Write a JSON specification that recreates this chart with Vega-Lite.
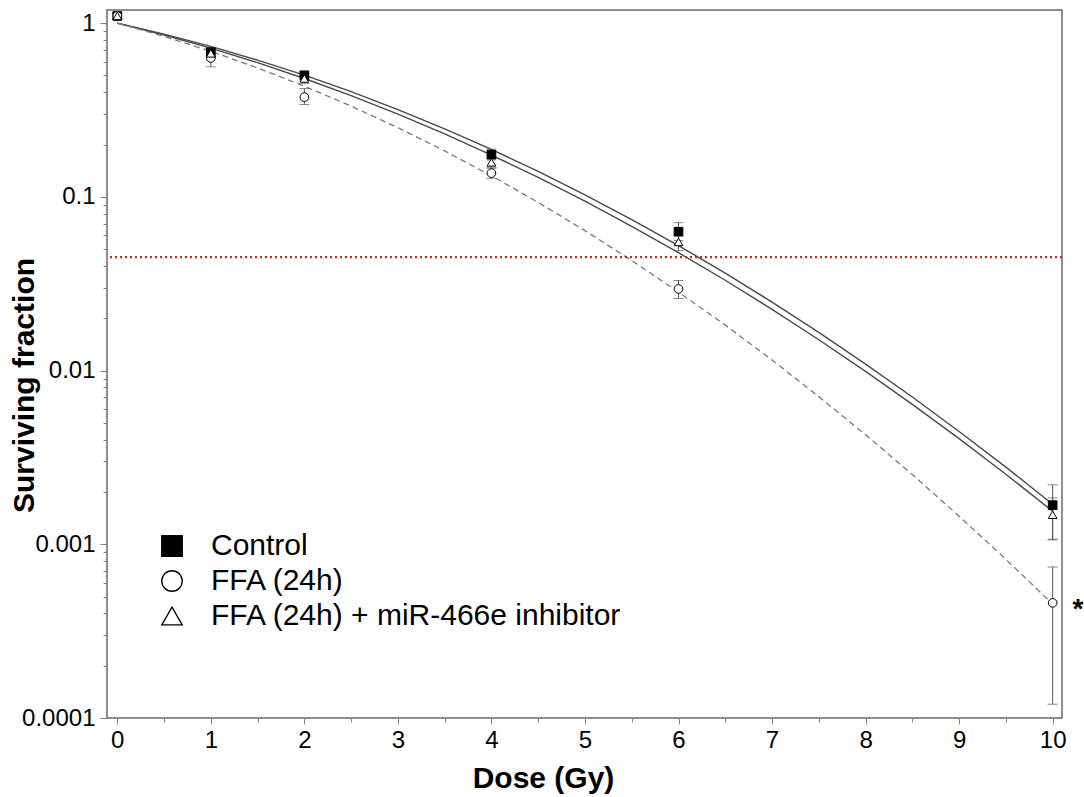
{
  "$schema": "https://vega.github.io/schema/vega-lite/v6.json",
  "width": 955,
  "height": 708,
  "autosize": {"type": "none"},
  "padding": {"left": 107, "top": 10, "right": 22, "bottom": 79},
  "background": "white",
  "config": {
    "font": "Liberation Sans",
    "view": {"stroke": "#6b6b6b", "strokeWidth": 1.5},
    "axis": {
      "grid": false,
      "domain": false,
      "tickColor": "#808080",
      "tickWidth": 1,
      "labelColor": "black",
      "labelFont": "Liberation Sans",
      "labelFontSize": 24,
      "titleFont": "Liberation Sans",
      "titleFontSize": 30,
      "titleFontWeight": "bold",
      "titleColor": "black"
    },
    "legend": {
      "labelFont": "Liberation Sans",
      "labelFontSize": 30,
      "labelColor": "black",
      "labelLimit": 800,
      "symbolSize": 420,
      "symbolStrokeWidth": 1.3,
      "labelOffset": 24,
      "rowPadding": 5,
      "padding": 0
    }
  },
  "datasets": {
    "curves": [
      {"Dose": 0, "SF": 1, "group": "Control"},
      {"Dose": 0.5, "SF": 0.865, "group": "Control"},
      {"Dose": 1, "SF": 0.7345, "group": "Control"},
      {"Dose": 1.5, "SF": 0.6124, "group": "Control"},
      {"Dose": 2, "SF": 0.5014, "group": "Control"},
      {"Dose": 2.5, "SF": 0.403, "group": "Control"},
      {"Dose": 3, "SF": 0.3181, "group": "Control"},
      {"Dose": 3.5, "SF": 0.2465, "group": "Control"},
      {"Dose": 4, "SF": 0.1876, "group": "Control"},
      {"Dose": 4.5, "SF": 0.1401, "group": "Control"},
      {"Dose": 5, "SF": 0.1028, "group": "Control"},
      {"Dose": 5.5, "SF": 0.074, "group": "Control"},
      {"Dose": 6, "SF": 0.0524, "group": "Control"},
      {"Dose": 6.5, "SF": 0.0364, "group": "Control"},
      {"Dose": 7, "SF": 0.0248, "group": "Control"},
      {"Dose": 7.5, "SF": 0.0166, "group": "Control"},
      {"Dose": 8, "SF": 0.0109, "group": "Control"},
      {"Dose": 8.5, "SF": 0.00704, "group": "Control"},
      {"Dose": 9, "SF": 0.00446, "group": "Control"},
      {"Dose": 9.5, "SF": 0.00278, "group": "Control"},
      {"Dose": 10, "SF": 0.0017, "group": "Control"},
      {"Dose": 0, "SF": 1, "group": "FFA (24h)"},
      {"Dose": 0.5, "SF": 0.8386, "group": "FFA (24h)"},
      {"Dose": 1, "SF": 0.688, "group": "FFA (24h)"},
      {"Dose": 1.5, "SF": 0.5521, "group": "FFA (24h)"},
      {"Dose": 2, "SF": 0.4334, "group": "FFA (24h)"},
      {"Dose": 2.5, "SF": 0.3329, "group": "FFA (24h)"},
      {"Dose": 3, "SF": 0.2501, "group": "FFA (24h)"},
      {"Dose": 3.5, "SF": 0.1838, "group": "FFA (24h)"},
      {"Dose": 4, "SF": 0.1321, "group": "FFA (24h)"},
      {"Dose": 4.5, "SF": 0.0929, "group": "FFA (24h)"},
      {"Dose": 5, "SF": 0.0639, "group": "FFA (24h)"},
      {"Dose": 5.5, "SF": 0.043, "group": "FFA (24h)"},
      {"Dose": 6, "SF": 0.0283, "group": "FFA (24h)"},
      {"Dose": 6.5, "SF": 0.01825, "group": "FFA (24h)"},
      {"Dose": 7, "SF": 0.0115, "group": "FFA (24h)"},
      {"Dose": 7.5, "SF": 0.00708, "group": "FFA (24h)"},
      {"Dose": 8, "SF": 0.00427, "group": "FFA (24h)"},
      {"Dose": 8.5, "SF": 0.00252, "group": "FFA (24h)"},
      {"Dose": 9, "SF": 0.00145, "group": "FFA (24h)"},
      {"Dose": 9.5, "SF": 0.00082, "group": "FFA (24h)"},
      {"Dose": 10, "SF": 0.000453, "group": "FFA (24h)"},
      {"Dose": 0, "SF": 1, "group": "FFA (24h) + miR-466e inhibitor"},
      {"Dose": 0.5, "SF": 0.8545, "group": "FFA (24h) + miR-466e inhibitor"},
      {"Dose": 1, "SF": 0.7175, "group": "FFA (24h) + miR-466e inhibitor"},
      {"Dose": 1.5, "SF": 0.592, "group": "FFA (24h) + miR-466e inhibitor"},
      {"Dose": 2, "SF": 0.48, "group": "FFA (24h) + miR-466e inhibitor"},
      {"Dose": 2.5, "SF": 0.3824, "group": "FFA (24h) + miR-466e inhibitor"},
      {"Dose": 3, "SF": 0.2994, "group": "FFA (24h) + miR-466e inhibitor"},
      {"Dose": 3.5, "SF": 0.2303, "group": "FFA (24h) + miR-466e inhibitor"},
      {"Dose": 4, "SF": 0.1741, "group": "FFA (24h) + miR-466e inhibitor"},
      {"Dose": 4.5, "SF": 0.1294, "group": "FFA (24h) + miR-466e inhibitor"},
      {"Dose": 5, "SF": 0.0944, "group": "FFA (24h) + miR-466e inhibitor"},
      {"Dose": 5.5, "SF": 0.0677, "group": "FFA (24h) + miR-466e inhibitor"},
      {"Dose": 6, "SF": 0.0477, "group": "FFA (24h) + miR-466e inhibitor"},
      {"Dose": 6.5, "SF": 0.0331, "group": "FFA (24h) + miR-466e inhibitor"},
      {"Dose": 7, "SF": 0.0225, "group": "FFA (24h) + miR-466e inhibitor"},
      {"Dose": 7.5, "SF": 0.01505, "group": "FFA (24h) + miR-466e inhibitor"},
      {"Dose": 8, "SF": 0.00989, "group": "FFA (24h) + miR-466e inhibitor"},
      {"Dose": 8.5, "SF": 0.00639, "group": "FFA (24h) + miR-466e inhibitor"},
      {"Dose": 9, "SF": 0.00406, "group": "FFA (24h) + miR-466e inhibitor"},
      {"Dose": 9.5, "SF": 0.00253, "group": "FFA (24h) + miR-466e inhibitor"},
      {"Dose": 10, "SF": 0.00155, "group": "FFA (24h) + miR-466e inhibitor"}
    ],
    "points": [
      {"Dose": 0, "SF": 1.1, "lo": 1.06, "hi": 1.14, "group": "Control"},
      {"Dose": 1, "SF": 0.68, "lo": 0.64, "hi": 0.72, "group": "Control"},
      {"Dose": 2, "SF": 0.5, "lo": 0.47, "hi": 0.53, "group": "Control"},
      {"Dose": 4, "SF": 0.175, "lo": 0.163, "hi": 0.188, "group": "Control"},
      {"Dose": 6, "SF": 0.063, "lo": 0.056, "hi": 0.071, "group": "Control"},
      {"Dose": 10, "SF": 0.00168, "lo": 0.00106, "hi": 0.0022, "group": "Control"},
      {"Dose": 0, "SF": 1.1, "lo": 1.05, "hi": 1.15, "group": "FFA (24h)"},
      {"Dose": 1, "SF": 0.63, "lo": 0.56, "hi": 0.7, "group": "FFA (24h)"},
      {"Dose": 2, "SF": 0.375, "lo": 0.34, "hi": 0.42, "group": "FFA (24h)"},
      {"Dose": 4, "SF": 0.137, "lo": 0.128, "hi": 0.146, "group": "FFA (24h)"},
      {"Dose": 6, "SF": 0.0295, "lo": 0.026, "hi": 0.033, "group": "FFA (24h)"},
      {"Dose": 10, "SF": 0.00046, "lo": 0.00012, "hi": 0.00074, "group": "FFA (24h)"},
      {"Dose": 0, "SF": 1.1, "lo": 1.06, "hi": 1.14, "group": "FFA (24h) + miR-466e inhibitor"},
      {"Dose": 1, "SF": 0.67, "lo": 0.63, "hi": 0.71, "group": "FFA (24h) + miR-466e inhibitor"},
      {"Dose": 2, "SF": 0.48, "lo": 0.45, "hi": 0.51, "group": "FFA (24h) + miR-466e inhibitor"},
      {"Dose": 4, "SF": 0.158, "lo": 0.148, "hi": 0.168, "group": "FFA (24h) + miR-466e inhibitor"},
      {"Dose": 6, "SF": 0.055, "lo": 0.049, "hi": 0.06, "group": "FFA (24h) + miR-466e inhibitor"},
      {"Dose": 10, "SF": 0.00148, "lo": 0.00107, "hi": 0.00185, "group": "FFA (24h) + miR-466e inhibitor"}
    ],
    "notes": [
      {"Dose": 10.27, "SF": 0.00042, "label": "*"}
    ],
    "threshold": [
      {"SF": 0.045}
    ]
  },
  "layer": [
    {
      "data": {"name": "curves"},
      "transform": [{"filter": "datum.group !== 'FFA (24h)'"}],
      "mark": {"type": "line", "strokeWidth": 1.4, "color": "#4a4a4a"},
      "encoding": {
        "x": {
          "field": "Dose", "type": "quantitative",
          "scale": {"type": "linear", "domain": [-0.11, 10.1], "nice": false, "zero": false},
          "axis": {
            "title": "Dose (Gy)",
            "values": [0, 0.5, 1, 1.5, 2, 2.5, 3, 3.5, 4, 4.5, 5, 5.5, 6, 6.5, 7, 7.5, 8, 8.5, 9, 9.5, 10],
            "format": "~g",
            "labelExpr": "datum.value % 1 === 0 ? datum.label : ''",
            "tickSize": {"condition": {"test": "datum.value % 1 === 0", "value": 6}, "value": 4},
            "labelPadding": 4,
            "titleX": 436,
            "titleY": 60,
            "titleAlign": "center",
            "titleBaseline": "middle"
          }
        },
        "y": {
          "field": "SF", "type": "quantitative",
          "scale": {"type": "log", "domain": [0.0001, 1.19], "nice": false},
          "axis": {
            "title": "Surviving fraction",
            "values": [0.0001, 0.0002, 0.0003, 0.0004, 0.0005, 0.0006, 0.0007, 0.0008, 0.0009, 0.001, 0.002, 0.003, 0.004, 0.005, 0.006, 0.007, 0.008, 0.009, 0.01, 0.02, 0.03, 0.04, 0.05, 0.06, 0.07, 0.08, 0.09, 0.1, 0.2, 0.3, 0.4, 0.5, 0.6, 0.7, 0.8, 0.9, 1],
            "format": "~g",
            "labelExpr": "abs(log(datum.value)/LN10 - round(log(datum.value)/LN10)) < 0.01 ? datum.label : ''",
            "tickSize": {"condition": {"test": "abs(log(datum.value)/LN10 - round(log(datum.value)/LN10)) < 0.01", "value": 7}, "value": 4},
            "labelPadding": 5,
            "titleX": -83,
            "titleY": 375,
            "titleAlign": "center",
            "titleBaseline": "middle"
          }
        },
        "detail": {"field": "group"}
      }
    },
    {
      "data": {"name": "curves"},
      "transform": [{"filter": "datum.group === 'FFA (24h)'"}],
      "mark": {"type": "line", "strokeWidth": 1.3, "color": "#7a7a7a", "strokeDash": [6, 4]},
      "encoding": {
        "x": {"field": "Dose", "type": "quantitative"},
        "y": {"field": "SF", "type": "quantitative", "title": "Surviving fraction"}
      }
    },
    {
      "data": {"name": "threshold"},
      "mark": {"type": "rule", "color": "#b3312c", "strokeWidth": 2.2, "strokeDash": [2, 3]},
      "encoding": {"y": {"field": "SF", "type": "quantitative", "title": "Surviving fraction"}}
    },
    {
      "data": {"name": "points"},
      "mark": {"type": "rule", "color": "#555555", "strokeWidth": 1},
      "encoding": {
        "x": {"field": "Dose", "type": "quantitative"},
        "y": {"field": "lo", "type": "quantitative", "title": "Surviving fraction"},
        "y2": {"field": "hi"}
      }
    },
    {
      "data": {"name": "points"},
      "mark": {"type": "tick", "orient": "horizontal", "color": "#555555", "size": 10, "thickness": 1},
      "encoding": {
        "x": {"field": "Dose", "type": "quantitative"},
        "y": {"field": "lo", "type": "quantitative", "title": "Surviving fraction"}
      }
    },
    {
      "data": {"name": "points"},
      "mark": {"type": "tick", "orient": "horizontal", "color": "#555555", "size": 10, "thickness": 1},
      "encoding": {
        "x": {"field": "Dose", "type": "quantitative"},
        "y": {"field": "hi", "type": "quantitative", "title": "Surviving fraction"}
      }
    },
    {
      "data": {"name": "points"},
      "mark": {"type": "point", "filled": true, "strokeWidth": 1, "size": 75, "opacity": 1},
      "encoding": {
        "x": {"field": "Dose", "type": "quantitative"},
        "y": {"field": "SF", "type": "quantitative", "title": "Surviving fraction"},
        "shape": {
          "field": "group", "type": "nominal",
          "scale": {"domain": ["Control", "FFA (24h)", "FFA (24h) + miR-466e inhibitor"], "range": ["square", "circle", "triangle-up"]},
          "legend": {"orient": "none", "legendX": 50, "legendY": 521, "title": null}
        },
        "fill": {
          "field": "group", "type": "nominal",
          "scale": {"domain": ["Control", "FFA (24h)", "FFA (24h) + miR-466e inhibitor"], "range": ["black", "white", "white"]},
          "legend": {"orient": "none", "legendX": 50, "legendY": 521, "title": null}
        },
        "stroke": {
          "field": "group", "type": "nominal",
          "scale": {"domain": ["Control", "FFA (24h)", "FFA (24h) + miR-466e inhibitor"], "range": ["black", "black", "black"]},
          "legend": {"orient": "none", "legendX": 50, "legendY": 521, "title": null}
        }
      }
    },
    {
      "data": {"name": "notes"},
      "mark": {"type": "text", "fontSize": 28, "fontWeight": "bold", "font": "Liberation Sans", "baseline": "middle", "align": "center"},
      "encoding": {
        "x": {"field": "Dose", "type": "quantitative"},
        "y": {"field": "SF", "type": "quantitative", "title": "Surviving fraction"},
        "text": {"field": "label"}
      }
    }
  ]
}
